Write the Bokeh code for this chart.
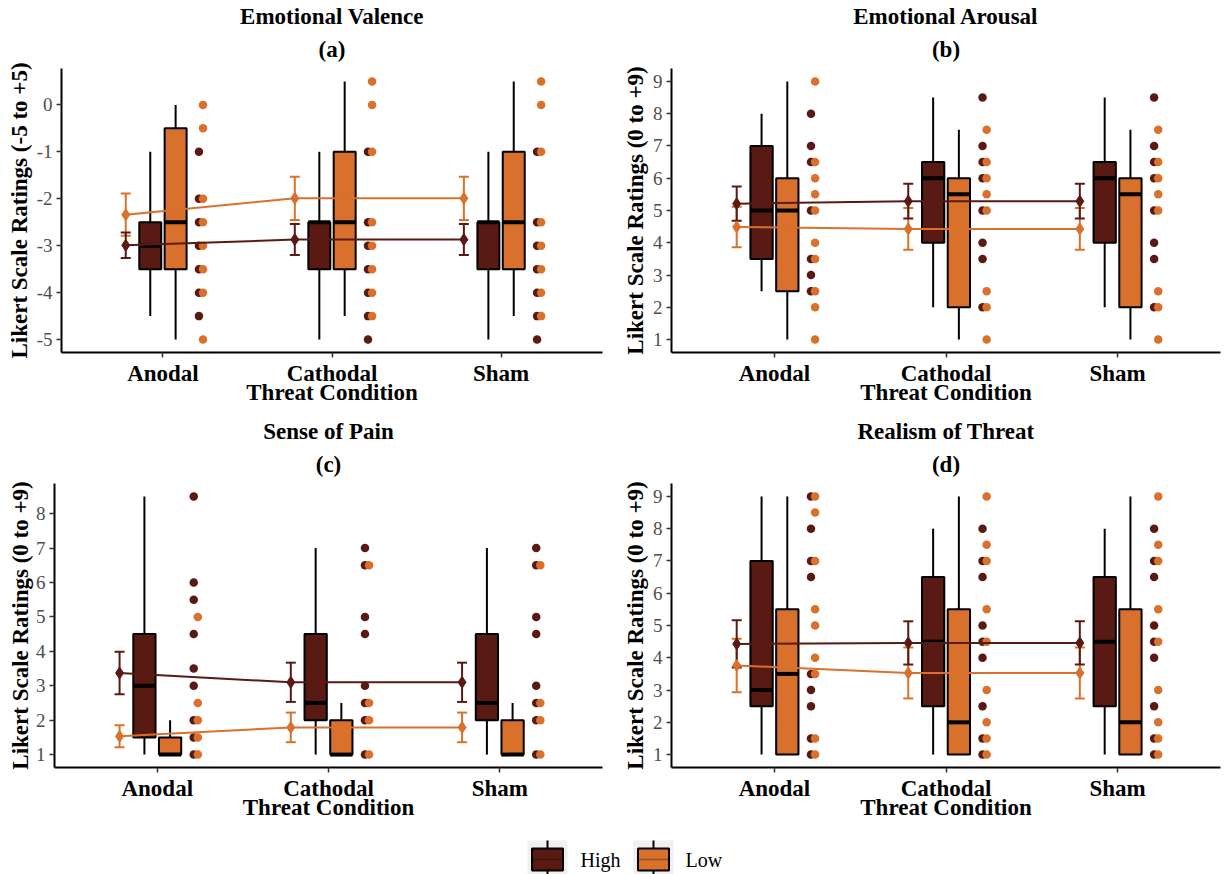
from bokeh.plotting import figure
from bokeh.models import Range1d, FixedTicker, Title, ColumnDataSource, Whisker, TeeHead
from bokeh.core.properties import value
from bokeh.layouts import column, row
from bokeh.embed import file_html
from bokeh.resources import INLINE

FONT = "Liberation Serif"
HIGH_COLOR = "#5a1a14"
LOW_COLOR = "#d9702b"
GROUP_COLORS = {"High": HIGH_COLOR, "Low": LOW_COLOR}

conditions = ["Anodal", "Cathodal", "Sham"]
groups = ["High", "Low"]

# ---------------- (a) Emotional Valence ----------------
valence_ticks = [-5, -4, -3, -2, -1, 0]
valence_mean_high = [-2.99, -2.87, -2.87]
valence_err_high = [0.27, 0.33, 0.33]
valence_mean_low = [-2.34, -1.99, -1.99]
valence_err_low = [0.45, 0.46, 0.46]
# box stats: lower whisker, Q1, median, Q3, upper whisker
valence_box_high = [[-4.5, -3.5, -3.0, -2.5, -1.0],
                    [-5.0, -3.5, -2.5, -2.5, -1.0],
                    [-5.0, -3.5, -2.5, -2.5, -1.0]]
valence_box_low = [[-5.0, -3.5, -2.5, -0.5, 0.0],
                   [-4.5, -3.5, -2.5, -1.0, 0.5],
                   [-4.5, -3.5, -2.5, -1.0, 0.5]]
valence_pts_high = [[-1, -2, -2.5, -3, -3.5, -4, -4.5],
                    [-1, -2.5, -3, -3.5, -4, -4.5, -5],
                    [-1, -2.5, -3, -3.5, -4, -4.5, -5]]
valence_pts_low = [[0, -0.5, -2, -2.5, -3, -3.5, -4, -5],
                   [0.5, 0, -1, -2.5, -3, -3.5, -4, -4.5],
                   [0.5, 0, -1, -2.5, -3, -3.5, -4, -4.5]]

# ---------------- (b) Emotional Arousal ----------------
arousal_ticks = [1, 2, 3, 4, 5, 6, 7, 8, 9]
arousal_mean_high = [5.21, 5.29, 5.29]
arousal_err_high = [0.53, 0.54, 0.54]
arousal_mean_low = [4.49, 4.43, 4.43]
arousal_err_low = [0.63, 0.65, 0.65]
arousal_box_high = [[2.5, 3.5, 5.0, 7.0, 8.0],
                    [2.0, 4.0, 6.0, 6.5, 8.5],
                    [2.0, 4.0, 6.0, 6.5, 8.5]]
arousal_box_low = [[1.0, 2.5, 5.0, 6.0, 9.0],
                   [1.0, 2.0, 5.5, 6.0, 7.5],
                   [1.0, 2.0, 5.5, 6.0, 7.5]]
arousal_pts_high = [[8, 7, 6.5, 5, 3.5, 3, 2.5],
                    [8.5, 7, 6.5, 6, 5, 4, 3.5, 2],
                    [8.5, 7, 6.5, 6, 5, 4, 3.5, 2]]
arousal_pts_low = [[9, 6.5, 6, 5.5, 5, 4, 3.5, 2.5, 2, 1],
                   [7.5, 6.5, 6, 5.5, 5, 2.5, 2, 1],
                   [7.5, 6.5, 6, 5.5, 5, 2.5, 2, 1]]

# ---------------- (c) Sense of Pain ----------------
pain_ticks = [1, 2, 3, 4, 5, 6, 7, 8]
pain_mean_high = [3.37, 3.10, 3.10]
pain_err_high = [0.62, 0.57, 0.57]
pain_mean_low = [1.53, 1.79, 1.79]
pain_err_low = [0.32, 0.43, 0.43]
pain_box_high = [[1.0, 1.5, 3.0, 4.5, 8.5],
                 [1.0, 2.0, 2.5, 4.5, 7.0],
                 [1.0, 2.0, 2.5, 4.5, 7.0]]
pain_box_low = [[1.0, 1.0, 1.0, 1.5, 2.0],
                [1.0, 1.0, 1.0, 2.0, 2.5],
                [1.0, 1.0, 1.0, 2.0, 2.5]]
pain_pts_high = [[8.5, 6, 5.5, 4.5, 3.5, 3, 2, 1.5, 1],
                 [7, 6.5, 5, 4.5, 3, 2.5, 2, 1],
                 [7, 6.5, 5, 4.5, 3, 2.5, 2, 1]]
pain_pts_low = [[5, 2.5, 2, 1.5, 1],
                [6.5, 2.5, 2, 1],
                [6.5, 2.5, 2, 1]]

# ---------------- (d) Realism of Threat ----------------
realism_ticks = [1, 2, 3, 4, 5, 6, 7, 8, 9]
realism_mean_high = [4.43, 4.46, 4.46]
realism_err_high = [0.73, 0.67, 0.67]
realism_mean_low = [3.76, 3.53, 3.53]
realism_err_low = [0.83, 0.79, 0.79]
realism_box_high = [[1.0, 2.5, 3.0, 7.0, 9.0],
                    [1.0, 2.5, 4.5, 6.5, 8.0],
                    [1.0, 2.5, 4.5, 6.5, 8.0]]
realism_box_low = [[1.0, 1.0, 3.5, 5.5, 9.0],
                   [1.0, 1.0, 2.0, 5.5, 9.0],
                   [1.0, 1.0, 2.0, 5.5, 9.0]]
realism_pts_high = [[9, 8, 7, 6.5, 3.5, 3, 2.5, 1.5, 1],
                    [8, 7, 6.5, 5, 4.5, 4, 2.5, 1.5, 1],
                    [8, 7, 6.5, 5, 4.5, 4, 2.5, 1.5, 1]]
realism_pts_low = [[9, 8.5, 7, 5.5, 5, 4, 3.5, 1.5, 1],
                   [9, 7.5, 7, 5.5, 4.5, 3, 2, 1.5, 1],
                   [9, 7.5, 7, 5.5, 4.5, 3, 2, 1.5, 1]]

# horizontal placement of the layers around each condition
ERR_OFFSET = -0.22
BOX_OFFSET = {"High": -0.075, "Low": 0.075}
BOX_WIDTH = 0.13
DOT_OFFSET = {"High": 0.213, "Low": 0.237}

BOLD_SIZE = "23px"


def make_panel(title, letter, ylabel, ticks, means, errs, boxes, points,
               width, border_left, border_right, ylabel_standoff):
    values = []
    for g in groups:
        for b in boxes[g]:
            values.extend(b)
        for pts in points[g]:
            values.extend(pts)
    lo, hi = min(values), max(values)
    pad = 0.05 * (hi - lo)

    p = figure(width=width, height=415, title=None, toolbar_location=None,
               output_backend="svg",
               x_range=Range1d(0.4, 3.6), y_range=Range1d(lo - pad, hi + pad),
               min_border_left=border_left, min_border_right=border_right,
               min_border_top=68, min_border_bottom=63)
    p.outline_line_color = None
    p.xgrid.visible = False
    p.ygrid.visible = False
    p.background_fill_color = "white"
    p.border_fill_color = "white"

    xs = [i + 1 for i in range(len(conditions))]

    # boxplots
    for g in groups:
        bx = [x + BOX_OFFSET[g] for x in xs]
        lw = [b[0] for b in boxes[g]]
        q1 = [b[1] for b in boxes[g]]
        med = [b[2] for b in boxes[g]]
        q3 = [b[3] for b in boxes[g]]
        uw = [b[4] for b in boxes[g]]
        p.segment(x0=bx, y0=q3, x1=bx, y1=uw, line_color="black", line_width=2)
        p.segment(x0=bx, y0=q1, x1=bx, y1=lw, line_color="black", line_width=2)
        p.vbar(x=bx, width=BOX_WIDTH, bottom=q1, top=q3,
               fill_color=GROUP_COLORS[g], line_color="black", line_width=2)
        p.segment(x0=[x - BOX_WIDTH / 2 for x in bx], y0=med,
                  x1=[x + BOX_WIDTH / 2 for x in bx], y1=med,
                  line_color="black", line_width=4)

    # raw ratings beside the boxes
    for g in groups:
        px, py = [], []
        for x, pts in zip(xs, points[g]):
            px.extend([x + DOT_OFFSET[g]] * len(pts))
            py.extend(pts)
        p.scatter(x=px, y=py, size=8.5, fill_color=GROUP_COLORS[g],
                  line_color=None)

    # means with error bars
    for g in ["Low", "High"]:
        ex = [x + ERR_OFFSET for x in xs]
        m = means[g]
        e = errs[g]
        col = GROUP_COLORS[g]
        p.line(x=ex, y=m, line_color=col, line_width=2)
        src = ColumnDataSource(dict(x=ex, upper=[a + b for a, b in zip(m, e)],
                                    lower=[a - b for a, b in zip(m, e)]))
        p.add_layout(Whisker(source=src, base="x", upper="upper", lower="lower",
                             dimension="height", line_color=col, line_width=2,
                             upper_head=TeeHead(size=10, line_color=col, line_width=2),
                             lower_head=TeeHead(size=10, line_color=col, line_width=2)))
        p.scatter(x=ex, y=m, marker="diamond", size=12, fill_color=col,
                  line_color=col)

    # axes
    p.xaxis.ticker = FixedTicker(ticks=xs)
    p.xaxis.major_label_overrides = {x: c for x, c in zip(xs, conditions)}
    p.xaxis.axis_label = "Threat Condition"
    p.yaxis.ticker = FixedTicker(ticks=ticks)
    p.yaxis.major_label_overrides = {t: str(t) for t in ticks}
    p.yaxis.axis_label = ylabel
    for ax in (p.xaxis[0], p.yaxis[0]):
        ax.axis_line_color = "black"
        ax.axis_line_width = 2
        ax.major_tick_in = 0
        ax.major_tick_out = 5
        ax.major_tick_line_color = "#333333"
        ax.major_tick_line_width = 1.5
        ax.minor_tick_line_color = None
        ax.axis_label_text_font = FONT
        ax.axis_label_text_font_style = "bold"
        ax.axis_label_text_font_size = BOLD_SIZE
        ax.axis_label_text_color = "black"
        ax.major_label_text_font = FONT
    p.xaxis.major_label_text_font_size = BOLD_SIZE
    p.xaxis.major_label_text_font_style = "bold"
    p.xaxis.major_label_text_color = "black"
    p.xaxis.major_label_standoff = 3
    p.xaxis.axis_label_standoff = -9
    p.yaxis.major_label_text_font_size = "19px"
    p.yaxis.major_label_text_color = "#4d4d4d"
    p.yaxis.major_label_standoff = 4
    p.yaxis.axis_label_standoff = ylabel_standoff

    p.add_layout(Title(text=letter, align="center", text_font=FONT,
                       text_font_size=BOLD_SIZE, text_font_style="bold",
                       text_color="black", standoff=13), "above")
    p.add_layout(Title(text=title, align="center", text_font=FONT,
                       text_font_size=BOLD_SIZE, text_font_style="bold",
                       text_color="black", standoff=0), "above")
    return p


pa = make_panel("Emotional Valence", "(a)", "Likert Scale Ratings (-5 to +5)",
                valence_ticks,
                {"High": valence_mean_high, "Low": valence_mean_low},
                {"High": valence_err_high, "Low": valence_err_low},
                {"High": valence_box_high, "Low": valence_box_low},
                {"High": valence_pts_high, "Low": valence_pts_low},
                612, 61, 10, 2)
pb = make_panel("Emotional Arousal", "(b)", "Likert Scale Ratings (0 to +9)",
                arousal_ticks,
                {"High": arousal_mean_high, "Low": arousal_mean_low},
                {"High": arousal_err_high, "Low": arousal_err_low},
                {"High": arousal_box_high, "Low": arousal_box_low},
                {"High": arousal_pts_high, "Low": arousal_pts_low},
                613, 59, 5, 2)
pc = make_panel("Sense of Pain", "(c)", "Likert Scale Ratings (0 to +9)",
                pain_ticks,
                {"High": pain_mean_high, "Low": pain_mean_low},
                {"High": pain_err_high, "Low": pain_err_low},
                {"High": pain_box_high, "Low": pain_box_low},
                {"High": pain_pts_high, "Low": pain_pts_low},
                612, 54, 10, 0)
pd_ = make_panel("Realism of Threat", "(d)", "Likert Scale Ratings (0 to +9)",
                 realism_ticks,
                 {"High": realism_mean_high, "Low": realism_mean_low},
                 {"High": realism_err_high, "Low": realism_err_low},
                 {"High": realism_box_high, "Low": realism_box_low},
                 {"High": realism_pts_high, "Low": realism_pts_low},
                 613, 59, 5, 2)

# ---------------- shared legend strip ----------------
legend_key_x = [547, 653]
legend_text_x = [580, 685]
lg = figure(width=1225, height=44, toolbar_location=None, output_backend="svg",
            x_range=Range1d(0, 1225), y_range=Range1d(0, 44),
            min_border=0, title=None)
lg.axis.visible = False
lg.xgrid.visible = False
lg.ygrid.visible = False
lg.outline_line_color = None
lg.rect(x=legend_key_x, y=14, width=40, height=40, fill_color="#f0f0f0",
        line_color=None)
lg.segment(x0=legend_key_x, y0=-6, x1=legend_key_x, y1=34, line_color="black",
           line_width=2)
lg.rect(x=legend_key_x, y=15, width=31, height=22,
        fill_color=[GROUP_COLORS[g] for g in groups], line_color="black",
        line_width=2)
lg.segment(x0=[x - 15 for x in legend_key_x], y0=15,
           x1=[x + 15 for x in legend_key_x], y1=15,
           line_color="black", line_alpha=0.3, line_width=1.5)
lg.text(x=legend_text_x, y=15, text=groups, text_font=value(FONT),
        text_font_size="20px", text_baseline="middle", text_align="left",
        text_color="black")

layout = column(row(pa, pb), row(pc, pd_), lg)

with open("out.html", "w") as f:
    f.write(file_html(layout, INLINE))
